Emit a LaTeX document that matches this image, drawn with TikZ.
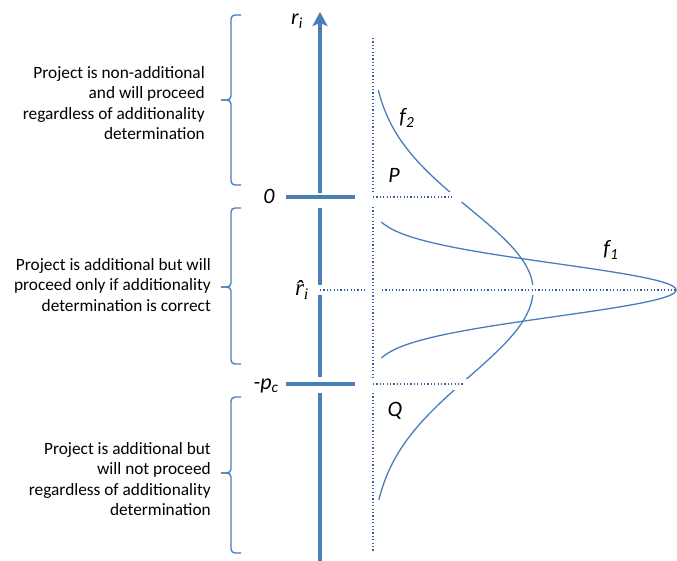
\documentclass[tikz,border=0pt]{standalone}
\usepackage{fontspec}
\setmainfont{Carlito}
\newfontfamily\serifit{Liberation Serif}
\usetikzlibrary{arrows.meta}
\definecolor{lblue}{RGB}{74,126,187}
\definecolor{dblue}{RGB}{55,95,165}
\tikzset{
  axisline/.style={draw=lblue, line width=3.5pt},
  tickline/.style={draw=lblue, line width=3.5pt},
  curveline/.style={draw=lblue, line width=1.3pt},
  dotline/.style={draw=dblue, line width=1.2pt, dash pattern=on 1.2pt off 2.2pt},
  bracket/.style={draw=lblue, line width=1.4pt, rounded corners=4pt},
  halo/.style={draw=white, line width=10pt},
  lbl/.style={font=\fontsize{22}{24}\selectfont\itshape, inner sep=0pt},
  sidetext/.style={font=\fontsize{17.3}{20.6}\selectfont, align=right, anchor=east, inner sep=0pt}
}
\begin{document}
\begin{tikzpicture}[x=1pt,y=-1pt]
\useasboundingbox (0,0) rectangle (677,561);
% axis
\coordinate (axbot) at (320,561);
\coordinate (axa) at (320,393);
\coordinate (axb) at (320,377);
\coordinate (axc) at (320,208);
\coordinate (axd) at (320,193);
\coordinate (axtop) at (320,12);
\draw[axisline] (axbot) -- (axa);
\draw[axisline] (axb) -- (axc);
\draw[axisline, -{Stealth[length=14pt,width=15pt,inset=3pt]}] (axd) -- (axtop);
% ticks
\coordinate (t0l) at (286,197);
\coordinate (t0r) at (355,197);
\coordinate (tpl) at (286,384);
\coordinate (tpr) at (355,384);
\draw[tickline] (t0l) -- (t0r);
\draw[tickline] (tpl) -- (tpr);
% curves
\draw[curveline] plot[domain=222:290, samples=60, variable=\t] ({370+306*exp(-0.5*((\t-290)/26.5)^2)}, \t);
\draw[curveline] plot[domain=290:358, samples=60, variable=\t] ({370+306*exp(-0.5*((\t-290)/26.5)^2)}, \t);
\draw[curveline] plot[domain=90:290, samples=80, variable=\t] ({370+163*exp(-0.5*((\t-290)/82)^2)}, \t);
\draw[curveline] plot[domain=290:500, samples=80, variable=\t] ({370+163*exp(-0.5*((\t-290)/87)^2)}, \t);
% halos
\draw[halo] (317,290) -- (540,290);
\draw[halo] (440,197) -- (462,197);
\draw[halo, line width=11pt] (444,384) -- (474,384);
% dotted lines
\coordinate (rh1) at (320,290);
\coordinate (rh2) at (367,290);
\coordinate (rh3) at (382,290);
\coordinate (rh4) at (677,290);
\draw[dotline] (rh1) -- (rh2);
\draw[dotline] (rh3) -- (rh4);
\coordinate (v1) at (373,38);
\coordinate (v2) at (373,192);
\coordinate (v3) at (373,207);
\coordinate (v4) at (373,380);
\coordinate (v5) at (373,393);
\coordinate (v6) at (373,552);
\draw[dotline] (v1) -- (v2);
\draw[dotline] (v3) -- (v4);
\draw[dotline] (v5) -- (v6);
\coordinate (h0a) at (373,197);
\coordinate (h0b) at (452,197);
\coordinate (hpa) at (373,384);
\coordinate (hpb) at (463,384);
\draw[dotline] (h0a) -- (h0b);
\draw[dotline] (hpa) -- (hpb);
% labels
\node[lbl] (ri) at (297,21) {r\textsubscript{i}};
\node[lbl] (zero) at (269,196) {0};
\node[inner sep=0pt, font=\serifit\itshape\fontsize{23}{25}\selectfont] (rhat) at (302,290) {\^{r}\textsubscript{i}};
\node[lbl] (pc) at (266,386) {-p\textsubscript{c}};
\node[lbl] (P) at (394,175) {P};
\node[lbl] (Q) at (395,411) {Q};
\node[lbl] (f2) at (407,118) {f\textsubscript{2}};
\node[lbl] (f1) at (611,250) {f\textsubscript{1}};
% brackets
\draw[bracket] (241,15) -- (231,15) -- (231,100) -- (221,100);
\draw[bracket] (221,100) -- (231,100) -- (231,185) -- (241,185);
\draw[bracket] (241,208) -- (231,208) -- (231,287) -- (221,287);
\draw[bracket] (221,287) -- (231,287) -- (231,364) -- (241,364);
\draw[bracket] (241,397) -- (231,397) -- (231,473) -- (221,473);
\draw[bracket] (221,473) -- (231,473) -- (231,553) -- (241,553);
% side texts
\node[sidetext] (t1) at (205,103) {Project is non-additional\\and will proceed\\regardless of additionality\\determination};
\node[sidetext] (t2) at (211,285) {Project is additional but will\\proceed only if additionality\\determination is correct};
\node[sidetext] (t3) at (211,479) {Project is additional but\\will not proceed\\regardless of additionality\\determination};
\end{tikzpicture}
\end{document}
